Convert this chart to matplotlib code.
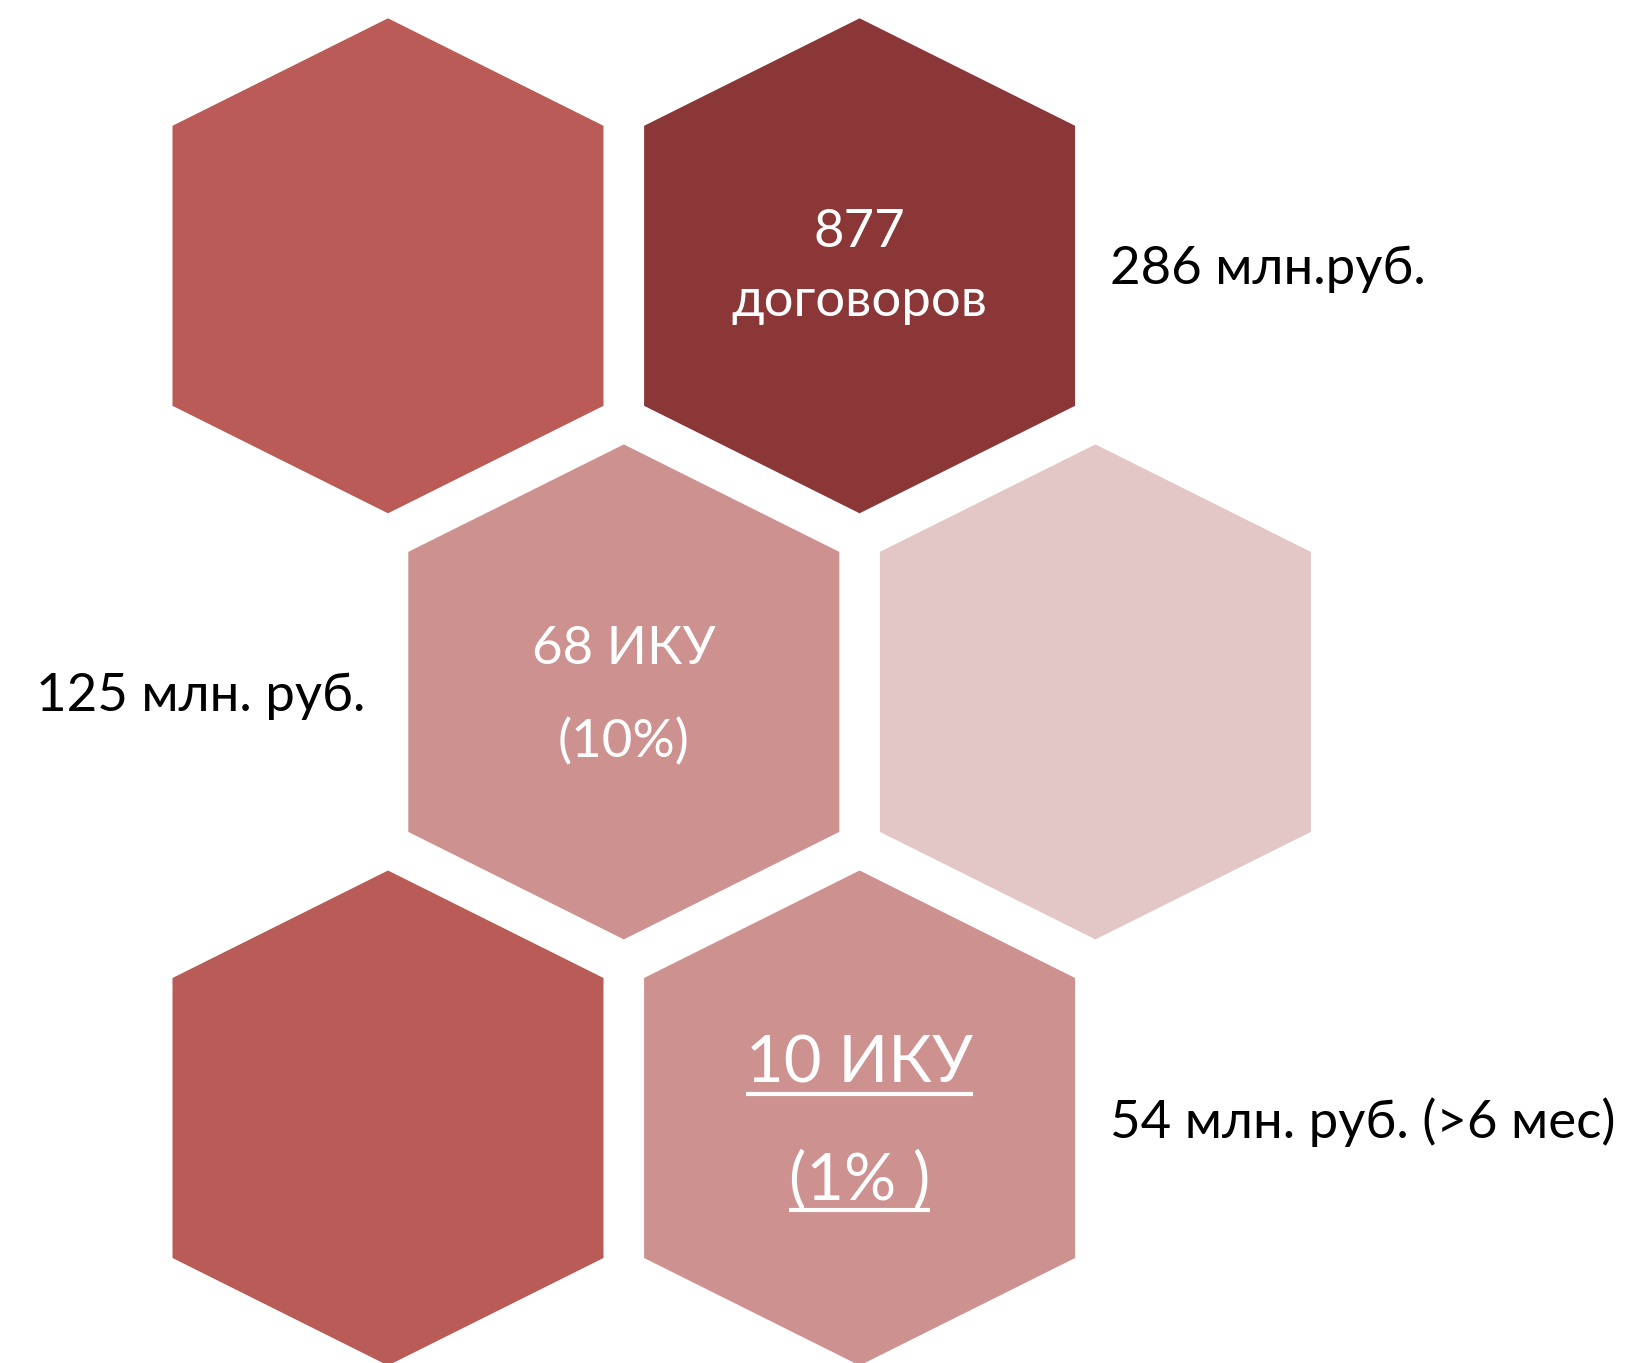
import numpy as np
import matplotlib.pyplot as plt
from matplotlib.patches import Polygon

# hexagon grid (row, column offset in half-steps) and fill colours
hex_rows = [0, 0, 1, 1, 2, 2]
hex_cols = [0, 2, 1, 3, 0, 2]
hex_colors = ['#BA5B57', '#8B3737', '#CD918F', '#E3C7C7', '#B95B57', '#CD918F']

# texts inside the hexagons
inner_lines = [
    ['877', 'договоров'],
    ['68 ИКУ', '(10%)'],
    ['10 ИКУ', '(1% )'],
]
inner_hex = [1, 2, 5]
inner_size = [38, 38, 47]
inner_underline = [False, False, True]

# notes beside the hexagons
side_labels = ['286 млн.руб.', '125 млн. руб.', '54 млн. руб. (>6 мес)']
side_rows = [0, 1, 2]
side_x = [1110, 36, 1110]

plt.rcParams['font.family'] = ['Lato', 'DejaVu Sans']

fig = plt.figure(figsize=(16.4, 13.63), dpi=100)
ax = fig.add_axes([0, 0, 1, 1])
ax.set_xlim(0, 1640)
ax.set_ylim(1363, 0)
ax.axis('off')

x0, dx = 388, 235.8
y0, dy = 265.8, 426.1
half_w, tip, side = 215.5, 107.5, 140.0


def hex_center(r, c):
    return x0 + c * dx, y0 + r * dy


for r, c, col in zip(hex_rows, hex_cols, hex_colors):
    cx, cy = hex_center(r, c)
    pts = [(cx, cy - side - tip), (cx + half_w, cy - side), (cx + half_w, cy + side),
           (cx, cy + side + tip), (cx - half_w, cy + side), (cx - half_w, cy - side)]
    ax.add_patch(Polygon(pts, closed=True, facecolor=col, edgecolor='none'))

line_offsets = [[-33, 36], [-42, 50], [-54, 62]]
texts_to_underline = []
for lines, hi, size, ul, offs in zip(inner_lines, inner_hex, inner_size,
                                     inner_underline, line_offsets):
    cx, cy = hex_center(hex_rows[hi], hex_cols[hi])
    for line, off in zip(lines, offs):
        t = ax.text(cx, cy + off, line, color='white', fontsize=size,
                    ha='center', va='center')
        if ul:
            texts_to_underline.append(t)

for lab, r, x in zip(side_labels, side_rows, side_x):
    _, cy = hex_center(r, 0)
    ax.text(x, cy + 4, lab, color='black', fontsize=38, ha='left', va='center')

# underline the bottom hexagon text using rendered extents
fig.canvas.draw()
renderer = fig.canvas.get_renderer()
inv = ax.transData.inverted()
for t in texts_to_underline:
    bb = t.get_window_extent(renderer)
    (xa, ya), (xb, yb) = inv.transform([(bb.x0, bb.y0), (bb.x1, bb.y1)])
    ax.plot([xa, xb], [ya, ya], color='white', lw=3, solid_capstyle='butt')

fig.savefig('out.png', dpi=100)
